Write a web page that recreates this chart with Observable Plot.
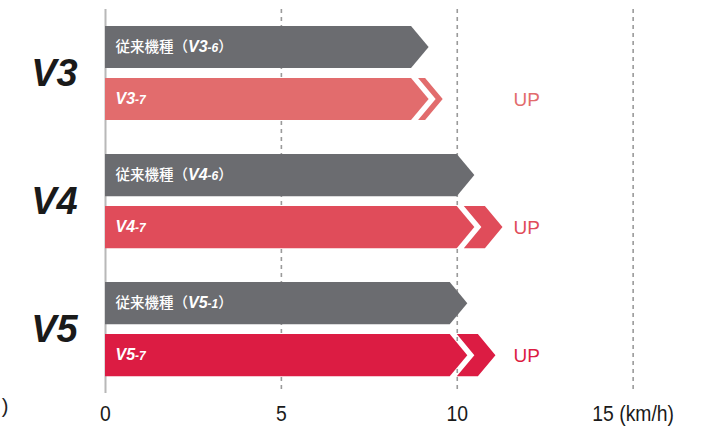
<!DOCTYPE html>
<html>
<head>
<meta charset="utf-8">
<script src="https://cdn.jsdelivr.net/npm/d3@7"></script>
<script src="https://cdn.jsdelivr.net/npm/@observablehq/plot@0.6"></script>
<style>
  html, body { margin: 0; padding: 0; background: #fff; }
  #chart svg { display: block; overflow: visible; }
</style>
</head>
<body>
<div id="chart"></div>
<script>
// ---- data ----
const groups = ["V3", "V4", "V5"];
const oldLabels = ["従来機種（V3-6）", "従来機種（V4-6）", "従来機種（V5-1）"];
const newLabels = ["V3-7", "V4-7", "V5-7"];
const oldSpeeds = [9.2, 10.5, 10.3];
const newSpeeds = [9.6, 11.3, 11.1];
const oldColor = "#6b6c70";
const newColors = ["#e26c6d", "#e04c5a", "#dc1c43"];
const xTicks = [0, 5, 10, 15];
const unitLabel = "(km/h)";
const upLabel = "UP";
const noteLabel = ")";

// ---- layout helpers ----
const groupStep = 128 / 52;
const half = 0.405;
const tipDepth = 0.5;
const gap = 0.2;

const shapes = [];
const arrow = (id, yc, v, color) => [
  {id, y: yc - half, x1: 0, x2: v - tipDepth, color},
  {id, y: yc,        x1: 0, x2: v,            color},
  {id, y: yc + half, x1: 0, x2: v - tipDepth, color}
];
groups.forEach((g, i) => {
  const yOld = i * groupStep, yNew = yOld + 1;
  shapes.push(...arrow(g + "-old", yOld, oldSpeeds[i], oldColor));
  shapes.push(...arrow(g + "-new", yNew, oldSpeeds[i], newColors[i]));
  const o = oldSpeeds[i], n = newSpeeds[i], id = g + "-chev", color = newColors[i];
  shapes.push(
    {id, y: yNew - half, x1: o - tipDepth + gap, x2: n - tipDepth, color},
    {id, y: yNew,        x1: o + gap,            x2: n,            color},
    {id, y: yNew + half, x1: o - tipDepth + gap, x2: n - tipDepth, color}
  );
});

const barLabels = [];
groups.forEach((g, i) => {
  barLabels.push({y: i * groupStep, text: oldLabels[i]});
  barLabels.push({y: i * groupStep + 1, text: newLabels[i]});
});
const groupRows = groups.map((g, i) => ({g, y: i * groupStep + 0.5}));
const upRows = groups.map((g, i) => ({y: i * groupStep + 1, color: newColors[i]}));

const sans = "'Liberation Sans', Arial, sans-serif";
const tickText = d => d === 15 ? `${d} ${unitLabel}` : `${d}`;

const plot = Plot.plot({
  width: 723,
  height: 428,
  marginLeft: 105,
  marginRight: 20,
  marginTop: 9,
  marginBottom: 35,
  style: {background: "#fff"},
  x: {domain: [0, 17], axis: null},
  y: {domain: [-0.73, 6.65], reverse: true, axis: null},
  marks: [
    Plot.gridX(xTicks.filter(d => d !== 0), {stroke: "#9a9a9a", strokeOpacity: 1, strokeWidth: 1.6, strokeDasharray: "4,4"}),
    Plot.ruleX([0], {stroke: "#b8b8b8", strokeWidth: 2}),
    Plot.areaX(shapes, {y: "y", x1: "x1", x2: "x2", z: "id", fill: "color", curve: "linear"}),
    Plot.text(barLabels, {
      x: 0, y: "y", text: "text", dx: 10, textAnchor: "start",
      fill: "#ffffff", fontSize: 14
    }),
    Plot.text(groupRows, {
      frameAnchor: "left", y: "y", text: "g", dx: -51, textAnchor: "middle",
      fill: "#1a1a1a", fontSize: 38, fontWeight: 900, fontStyle: "italic",
      fontFamily: sans
    }),
    Plot.text(upRows, {
      x: 11.6, y: "y", text: () => upLabel, textAnchor: "start",
      fill: "color", fontSize: 19, fontFamily: sans
    }),
    Plot.axisX(xTicks, {
      tickSize: 0, tickPadding: 12, fontSize: 22, fill: "#1a1a1a",
      fontFamily: sans, tickFormat: tickText
    }),
    Plot.text([noteLabel], {
      frameAnchor: "bottom-left", dx: -97, dy: 19, textAnchor: "end",
      fontSize: 20, fill: "#222", fontFamily: sans
    })
  ]
});

// rich text for the in-bar labels
const labelSet = new Set(barLabels.map(d => d.text));
const cjk = "'Noto Sans CJK JP', 'Noto Sans', sans-serif";
d3.select(plot).selectAll("text").filter(function() { return labelSet.has(this.textContent); }).each(function() {
  const t = this.textContent;
  const m = t.match(/^(.*?)(V\d)(-\d)(.*)$/);
  if (!m) return;
  const sel = d3.select(this).text(null);
  if (m[1]) sel.append("tspan").attr("font-family", cjk).attr("font-weight", 500).attr("font-size", 14.5).text(m[1]);
  sel.append("tspan").attr("font-family", sans).attr("font-weight", "bold").attr("font-style", "italic").attr("font-size", 16).text(m[2]);
  sel.append("tspan").attr("font-family", sans).attr("font-weight", "bold").attr("font-style", "italic").attr("font-size", 12).text(m[3]);
  if (m[4]) sel.append("tspan").attr("font-family", cjk).attr("font-weight", 500).attr("font-size", 14.5).text(m[4]);
});

// condensed look for the axis tick labels
const tickSet = new Set(xTicks.map(tickText));
d3.select(plot).selectAll("text").filter(function() { return tickSet.has(this.textContent); }).each(function() {
  const tr = this.getAttribute("transform") || "";
  this.setAttribute("transform", tr + " scale(0.88,1)");
});

document.getElementById("chart").appendChild(plot);
</script>
</body>
</html>
